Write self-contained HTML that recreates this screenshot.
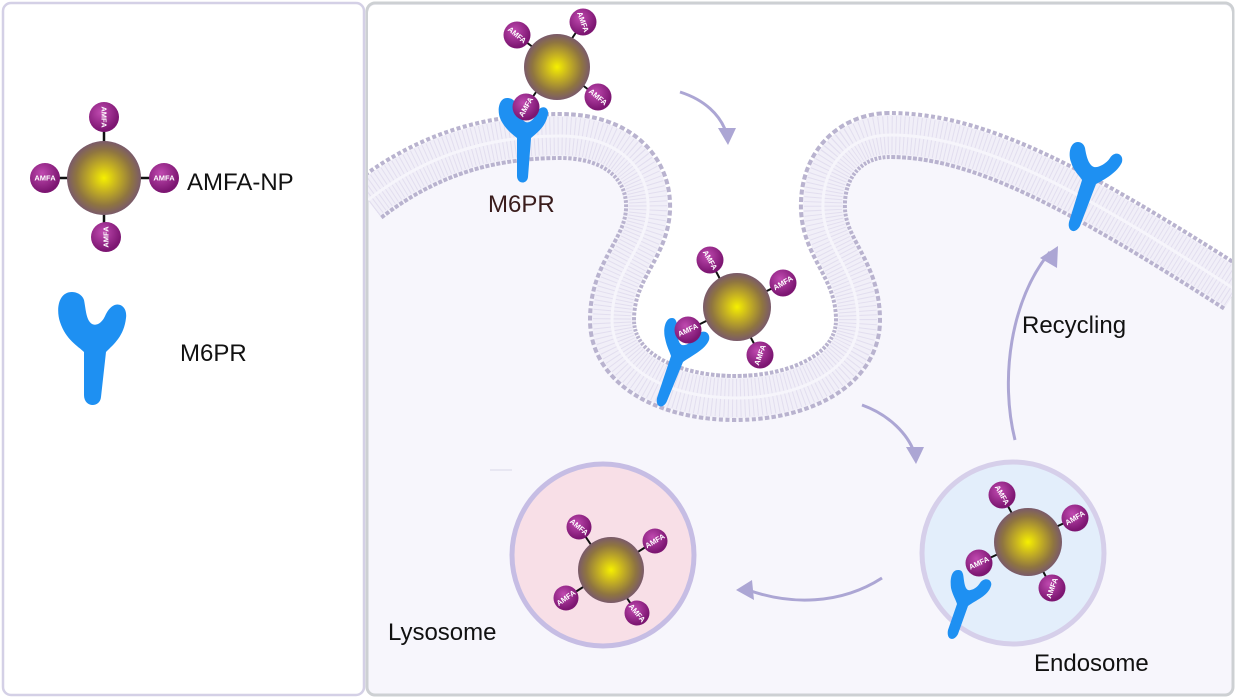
<!DOCTYPE html>
<html><head><meta charset="utf-8"><style>
html,body{margin:0;padding:0;background:#fff;}
svg{display:block;font-family:"Liberation Sans",sans-serif;}
.am{font:bold 7.5px "Liberation Sans",sans-serif;fill:#fff;text-anchor:middle;dominant-baseline:central;}
.lb{font-size:24px;fill:#111;}
</style></head><body>
<svg width="1236" height="699" viewBox="0 0 1236 699" xmlns="http://www.w3.org/2000/svg">
<defs>
<radialGradient id="np" cx="0.5" cy="0.5" r="0.5">
<stop offset="0" stop-color="#f6f000"/><stop offset="0.35" stop-color="#c8b420"/><stop offset="0.75" stop-color="#8f7540"/><stop offset="1" stop-color="#7a5a6a"/></radialGradient>
<radialGradient id="ball" cx="0.4" cy="0.35" r="0.6">
<stop offset="0" stop-color="#c04ab0"/><stop offset="1" stop-color="#7d1672"/></radialGradient>
<clipPath id="rp"><rect x="368" y="5" width="864" height="689" rx="8"/></clipPath>
</defs>
<rect x="0" y="0" width="1236" height="699" fill="#fff"/>
<rect x="3" y="3" width="361" height="692" rx="8" fill="#fff" stroke="#d4d0e6" stroke-width="2.5"/>
<rect x="367" y="3" width="866" height="692" rx="8" fill="#f7f6fc" stroke="#cdd0d3" stroke-width="3"/>
<g clip-path="url(#rp)">
<path d="M368,200 C420,160 480,136 560,136 C620,136 650,170 648,210 C646,250 612,270 612,320 C612,370 670,398 735,398 C800,398 858,370 858,320 C858,270 825,250 823,210 C821,165 850,135 890,135 C980,135 1080,190 1236,290 L1236,0 L368,0 Z" fill="#fff"/>
<path d="M368,200 C420,160 480,136 560,136 C620,136 650,170 648,210 C646,250 612,270 612,320 C612,370 670,398 735,398 C800,398 858,370 858,320 C858,270 825,250 823,210 C821,165 850,135 890,135 C980,135 1080,190 1236,290" fill="none" stroke="#b9b3cf" stroke-width="48" stroke-dasharray="4 2"/>
<path d="M368,200 C420,160 480,136 560,136 C620,136 650,170 648,210 C646,250 612,270 612,320 C612,370 670,398 735,398 C800,398 858,370 858,320 C858,270 825,250 823,210 C821,165 850,135 890,135 C980,135 1080,190 1236,290" fill="none" stroke="#f1eff8" stroke-width="40"/>
<path d="M368,200 C420,160 480,136 560,136 C620,136 650,170 648,210 C646,250 612,270 612,320 C612,370 670,398 735,398 C800,398 858,370 858,320 C858,270 825,250 823,210 C821,165 850,135 890,135 C980,135 1080,190 1236,290" fill="none" stroke="#e2deef" stroke-width="38" stroke-dasharray="1 3"/>
<path d="M368,200 C420,160 480,136 560,136 C620,136 650,170 648,210 C646,250 612,270 612,320 C612,370 670,398 735,398 C800,398 858,370 858,320 C858,270 825,250 823,210 C821,165 850,135 890,135 C980,135 1080,190 1236,290" fill="none" stroke="#f6f5fb" stroke-width="3"/>
</g>
<!-- arrows -->
<g fill="none" stroke="#aca6d4" stroke-width="3">
<path d="M680,92 C705,100 720,115 726,132"/>
<path d="M862,405 C890,415 908,435 914,452"/>
<path d="M882,578 C840,605 790,605 748,590"/>
<path d="M1015,440 C1000,380 1010,300 1050,252"/>
<path d="M490,470 L512,470" stroke="#e4e2ee" stroke-width="1.5"/>
</g>
<g fill="#aca6d4">
<path d="M718,128 L736,128 L728,145 Z"/>
<path d="M906,447 L924,447 L916,464 Z"/>
<path d="M752,580 L754,600 L736,590 Z"/>
<path d="M1040,258 L1058,246 L1057,268 Z"/>
</g>
<!-- organelles -->
<circle cx="1013" cy="553" r="91" fill="#e3eefb" stroke="#d6cfea" stroke-width="5"/>
<circle cx="603" cy="555" r="91" fill="#f8dfe7" stroke="#c6bde4" stroke-width="5"/>
<!-- receptors -->
<g fill="#1e90f2">
<path d="M72,292 C58,292 56,310 60,322 C66,340 78,346 84,352 L84,395 C84,408 100,408 101,397 L106,352 C114,344 124,336 126,318 C128,304 114,298 106,314 C102,324 96,326 92,324 C86,320 86,310 84,300 C82,294 76,292 72,292 Z"/>
<path d="M507,98 C499,98 497,110 500,118 C504,128 512,134 517,138 L517,176 C517,184 527,185 528,177 L531,138 C538,132 546,126 548,114 C549,106 540,104 536,114 C533,122 527,124 524,121 C519,117 517,108 515,102 C513,99 510,98 507,98 Z"/>
<path d="M1078,142 C1070,142 1068,154 1071,162 C1074,172 1080,176 1082,180 L1069,222 C1067,231 1075,235 1080,226 L1096,184 C1104,180 1118,172 1122,162 C1124,154 1115,150 1110,158 C1106,164 1098,168 1094,167 C1088,165 1086,154 1085,148 C1084,144 1081,142 1078,142 Z"/>
<path d="M672,318 C665,318 663,330 665,338 C667,348 670,352 671,356 L657,398 C655,407 663,410 667,401 L683,362 C691,356 705,350 709,340 C711,332 702,328 697,336 C693,342 686,346 682,345 C677,343 677,330 677,324 C676,320 675,318 672,318 Z"/>
<path d="M958,570 C951,570 950,580 951,588 C953,596 956,600 957,604 L948,630 C946,640 954,642 958,634 L968,606 C976,600 988,596 991,586 C993,580 985,576 980,583 C977,588 971,591 968,590 C964,588 964,578 963,574 C962,571 961,570 958,570 Z"/>
</g>
<!-- NP 1 legend -->
<g stroke="#111" stroke-width="2.5"><line x1="104" y1="130" x2="104" y2="228"/><line x1="56" y1="178" x2="152" y2="178"/></g>
<circle cx="104" cy="178" r="37" fill="url(#np)"/>
<circle cx="104" cy="117" r="15" fill="url(#ball)"/><text class="am" transform="translate(104,117) rotate(90)">AMFA</text>
<circle cx="45" cy="178" r="15" fill="url(#ball)"/><text class="am" x="45" y="178">AMFA</text>
<circle cx="164" cy="178" r="15" fill="url(#ball)"/><text class="am" x="164" y="178">AMFA</text>
<circle cx="106" cy="237" r="15" fill="url(#ball)"/><text class="am" transform="translate(106,237) rotate(-90)">AMFA</text>
<!-- NP 2 top -->
<g stroke="#111" stroke-width="2"><line x1="517" y1="35" x2="598" y2="97"/><line x1="583" y1="22" x2="526" y2="107"/></g>
<circle cx="557" cy="67" r="33" fill="url(#np)"/>
<circle cx="517" cy="35" r="13.5" fill="url(#ball)"/><text class="am" transform="translate(517,35) rotate(40)">AMFA</text>
<circle cx="583" cy="22" r="13.5" fill="url(#ball)"/><text class="am" transform="translate(583,22) rotate(70)">AMFA</text>
<circle cx="598" cy="97" r="13.5" fill="url(#ball)"/><text class="am" transform="translate(598,97) rotate(40)">AMFA</text>
<circle cx="526" cy="107" r="13.5" fill="url(#ball)"/><text class="am" transform="translate(526,107) rotate(-60)">AMFA</text>
<!-- NP 3 pit -->
<g stroke="#111" stroke-width="2"><line x1="710" y1="260" x2="760" y2="355"/><line x1="783" y1="283" x2="688" y2="330"/></g>
<circle cx="737" cy="307" r="34" fill="url(#np)"/>
<circle cx="710" cy="260" r="13.5" fill="url(#ball)"/><text class="am" transform="translate(710,260) rotate(60)">AMFA</text>
<circle cx="783" cy="283" r="13.5" fill="url(#ball)"/><text class="am" transform="translate(783,283) rotate(-30)">AMFA</text>
<circle cx="760" cy="355" r="13.5" fill="url(#ball)"/><text class="am" transform="translate(760,355) rotate(-70)">AMFA</text>
<circle cx="688" cy="330" r="13.5" fill="url(#ball)"/><text class="am" transform="translate(688,330) rotate(-25)">AMFA</text>
<!-- NP 4 endosome -->
<g stroke="#111" stroke-width="2"><line x1="1002" y1="495" x2="1052" y2="588"/><line x1="1075" y1="518" x2="979" y2="563"/></g>
<circle cx="1028" cy="542" r="34" fill="url(#np)"/>
<circle cx="1002" cy="495" r="13.5" fill="url(#ball)"/><text class="am" transform="translate(1002,495) rotate(60)">AMFA</text>
<circle cx="1075" cy="518" r="13.5" fill="url(#ball)"/><text class="am" transform="translate(1075,518) rotate(-30)">AMFA</text>
<circle cx="1052" cy="588" r="13.5" fill="url(#ball)"/><text class="am" transform="translate(1052,588) rotate(-70)">AMFA</text>
<circle cx="979" cy="563" r="13.5" fill="url(#ball)"/><text class="am" transform="translate(979,563) rotate(-25)">AMFA</text>
<!-- NP 5 lysosome -->
<g stroke="#111" stroke-width="2"><line x1="579" y1="527" x2="637" y2="613"/><line x1="655" y1="541" x2="566" y2="598"/></g>
<circle cx="611" cy="570" r="33" fill="url(#np)"/>
<circle cx="579" cy="527" r="12.5" fill="url(#ball)"/><text class="am" transform="translate(579,527) rotate(40)">AMFA</text>
<circle cx="655" cy="541" r="12.5" fill="url(#ball)"/><text class="am" transform="translate(655,541) rotate(-30)">AMFA</text>
<circle cx="637" cy="613" r="12.5" fill="url(#ball)"/><text class="am" transform="translate(637,613) rotate(50)">AMFA</text>
<circle cx="566" cy="598" r="12.5" fill="url(#ball)"/><text class="am" transform="translate(566,598) rotate(-35)">AMFA</text>
<!-- labels -->
<text class="lb" x="187" y="190">AMFA-NP</text>
<text class="lb" x="180" y="361">M6PR</text>
<text class="lb" x="488" y="212" style="fill:#3a1c1c">M6PR</text>
<text class="lb" x="1022" y="333">Recycling</text>
<text class="lb" x="388" y="640">Lysosome</text>
<text class="lb" x="1034" y="671">Endosome</text>
</svg>
</body></html>
